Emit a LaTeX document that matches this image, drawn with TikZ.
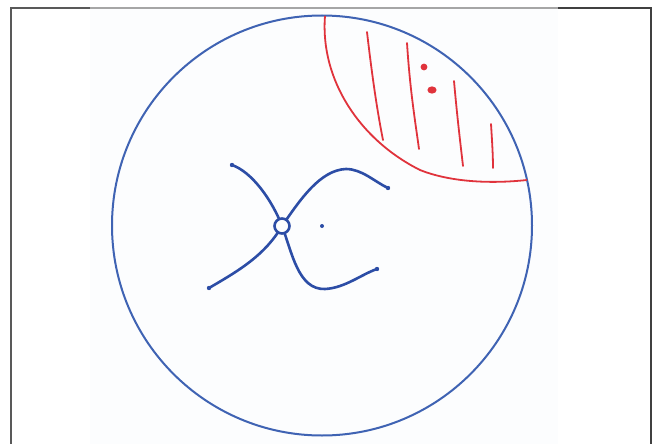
\documentclass[tikz,border=0pt]{standalone}
\begin{document}
\begin{tikzpicture}[x=1pt,y=-1pt,
  bigc/.style={draw=circblue,line width=2pt},
  curve/.style={draw=inkblue,line width=2.6pt,line cap=round},
  hatch/.style={draw=inkred,line width=1.8pt,line cap=round},
  frameline/.style={line width=1.4pt}]
\definecolor{circblue}{HTML}{3F63B3}
\definecolor{inkblue}{HTML}{2C4DA6}
\definecolor{inkred}{HTML}{E0333C}
\definecolor{paper}{HTML}{FCFDFE}
\useasboundingbox (0,0) rectangle (656,444);
% scanned image area
\fill[paper] (90,9) rectangle (558,444);
% frame
\draw[frameline,draw=black!65] (11,444) -- (11,8) -- (90,8);
\draw[frameline,draw=black!35] (90,8) -- (558,8);
\draw[frameline,draw=black!75] (558,8) -- (651,8) -- (651,444);
% big circle
\coordinate (O) at (322,225.5);
\draw[bigc] (O) circle[radius=210];
% red region
\coordinate (r0) at (325,16);
\coordinate (r1) at (527,180);
\draw[inkred,line width=1.8pt] (r0) .. controls (320,80) and (360,140) .. (420,170)
  .. controls (450,182) and (490,184) .. (r1);
\coordinate (h1a) at (367,32);  \coordinate (h1b) at (383,140);
\coordinate (h2a) at (407,43);  \coordinate (h2b) at (419,149);
\coordinate (h3a) at (454,81);  \coordinate (h3b) at (463,166);
\coordinate (h4a) at (491,124); \coordinate (h4b) at (493,168);
\draw[hatch] (h1a) .. controls (372,75) and (377,110) .. (h1b);
\draw[hatch] (h2a) .. controls (410,90) and (415,120) .. (h2b);
\draw[hatch] (h3a) .. controls (457,115) and (460,140) .. (h3b);
\draw[hatch] (h4a) .. controls (492,140) and (493,155) .. (h4b);
\fill[inkred] (424,67) circle[radius=3.4];
\fill[inkred] (432,90) ellipse[x radius=4.6, y radius=3.6];
% blue curves
\coordinate (a0) at (232,165);
\coordinate (a1) at (377,269);
\coordinate (b0) at (209,288);
\coordinate (b1) at (388,188);
\coordinate (H) at (282,226);
\draw[curve] (a0) .. controls (252,172) and (272,200) .. (H)
  .. controls (292,252) and (298,290) .. (325,289)
  .. controls (345,288) and (362,274) .. (a1);
\draw[curve] (b0) .. controls (240,270) and (265,255) .. (H)
  .. controls (300,200) and (320,170) .. (346,169)
  .. controls (362,169) and (375,182) .. (b1);
\foreach \p in {a0,a1,b0,b1} \fill[inkblue] (\p) circle[radius=2.2];
\node[circle,draw=inkblue,fill=paper,line width=2.6pt,minimum size=15pt,inner sep=0pt] (hub) at (H) {};
\node[circle,fill=inkblue,minimum size=4pt,inner sep=0pt] (dot) at (322,226) {};
\end{tikzpicture}
\end{document}
